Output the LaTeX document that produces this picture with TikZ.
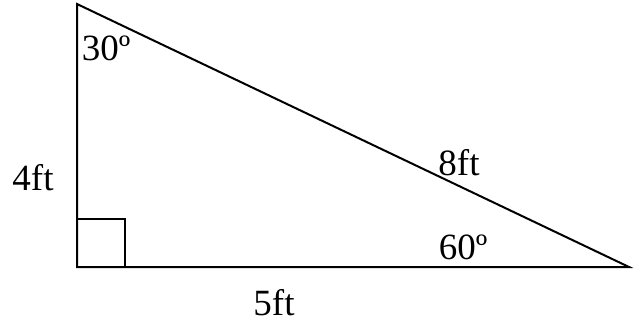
\documentclass[tikz,border=0pt]{standalone}
\usepackage{fontspec}
\setmainfont{Liberation Serif}
\begin{document}
\begin{tikzpicture}[x=1pt,y=-1pt,
  edge/.style={line width=2pt, line cap=rect},
  lbl/.style={font=\fontsize{37}{40}\selectfont, anchor=base, inner sep=0pt}]
\useasboundingbox (0,0) rectangle (634,323);
\coordinate (A) at (77,4);
\coordinate (B) at (77,267);
\coordinate (C) at (629,267);
\draw[edge, line join=miter] (A) -- (B) -- (C) -- cycle;
\draw[edge] (77,219) -- (125,219) -- (125,267);
\node[lbl] (t30) at (106,61) {30º};
\node[lbl] (t4) at (33,191) {4ft};
\node[lbl] (t8) at (459,176) {8ft};
\node[lbl] (t60) at (463,259) {60º};
\node[lbl] (t5) at (274,315) {5ft};
\end{tikzpicture}
\end{document}
